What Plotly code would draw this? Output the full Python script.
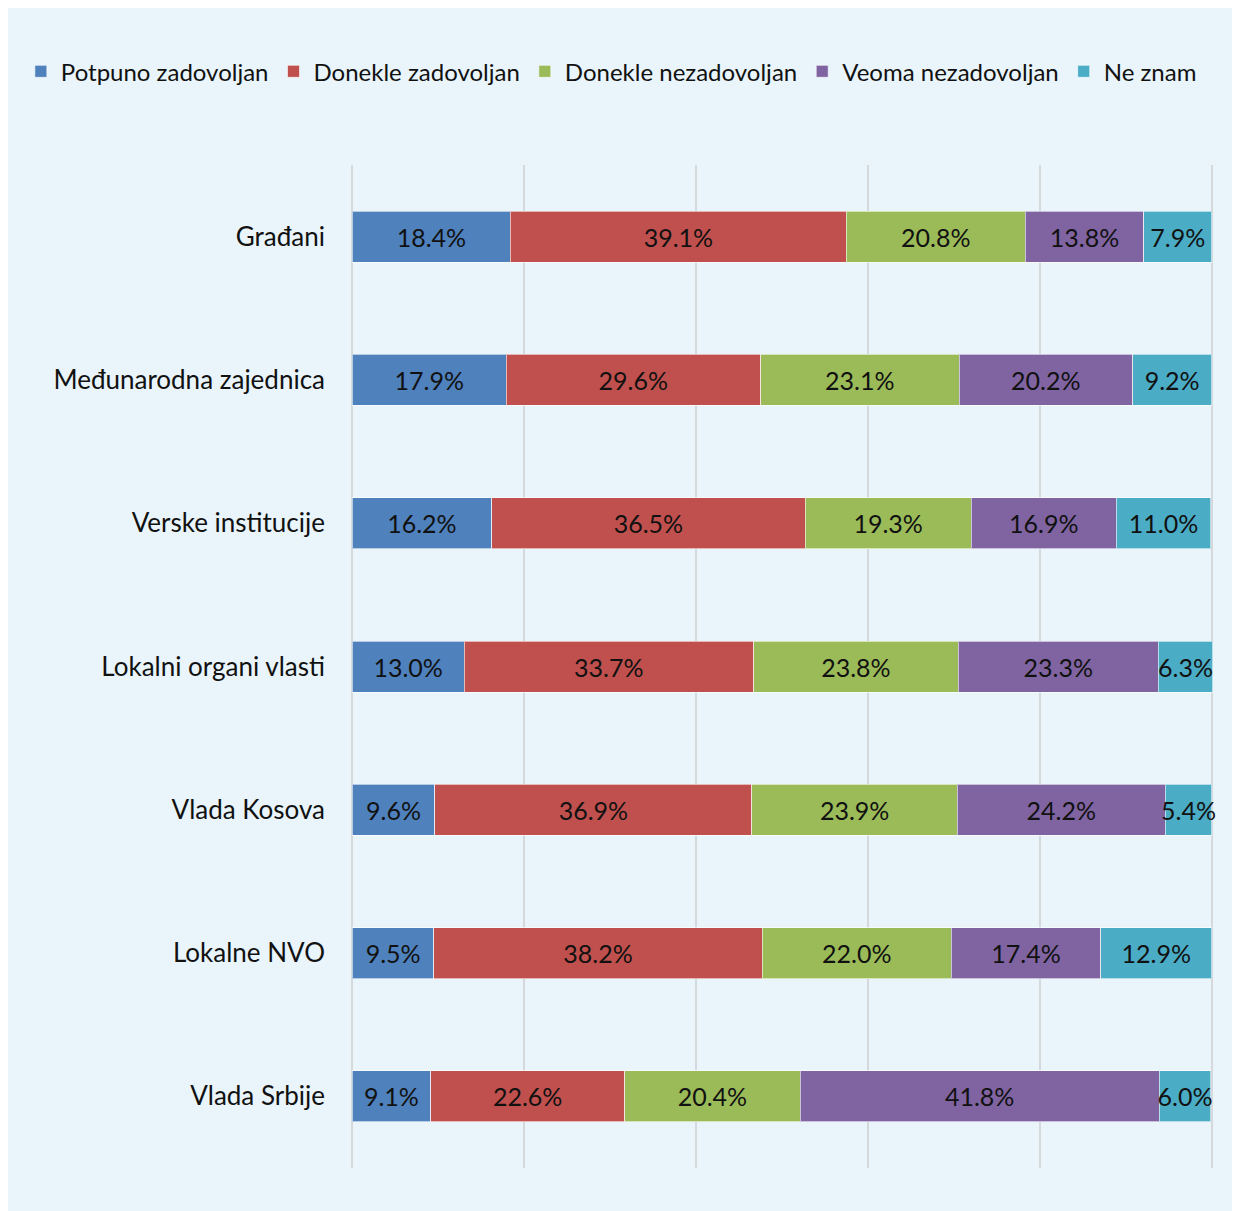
import plotly.graph_objects as go

categories = [
    "Građani",
    "Međunarodna zajednica",
    "Verske institucije",
    "Lokalni organi vlasti",
    "Vlada Kosova",
    "Lokalne NVO",
    "Vlada Srbije",
]

series_names = [
    "Potpuno zadovoljan",
    "Donekle zadovoljan",
    "Donekle nezadovoljan",
    "Veoma nezadovoljan",
    "Ne znam",
]

potpuno_zadovoljan = [18.4, 17.9, 16.2, 13.0, 9.6, 9.5, 9.1]
donekle_zadovoljan = [39.1, 29.6, 36.5, 33.7, 36.9, 38.2, 22.6]
donekle_nezadovoljan = [20.8, 23.1, 19.3, 23.8, 23.9, 22.0, 20.4]
veoma_nezadovoljan = [13.8, 20.2, 16.9, 23.3, 24.2, 17.4, 41.8]
ne_znam = [7.9, 9.2, 11.0, 6.3, 5.4, 12.9, 6.0]

colors = ["#4f81bd", "#c0504d", "#9bbb59", "#8064a2", "#4bacc6"]

FONT = "Lato, Open Sans, sans-serif"
W, H = 1240, 1211

fig = go.Figure()
all_series = [potpuno_zadovoljan, donekle_zadovoljan, donekle_nezadovoljan,
              veoma_nezadovoljan, ne_znam]
for name, vals, col in zip(series_names, all_series, colors):
    fig.add_trace(go.Bar(
        y=categories,
        x=vals,
        name=name,
        orientation="h",
        marker={"color": col, "line": {"color": "rgba(255,255,255,0.6)", "width": 1}},
        text=[f"{v:.1f}%" for v in vals],
        textposition="inside",
        insidetextanchor="middle",
        textangle=0,
        textfont={"color": "#111111", "size": 25, "family": FONT},
        cliponaxis=False,
        constraintext="none",
    ))

fig.update_layout(
    width=W,
    height=H,
    barmode="stack",
    bargap=0.644,
    margin={"l": 343, "r": 35, "t": 157, "b": 51, "autoexpand": False},
    paper_bgcolor="#e9f5fb",
    plot_bgcolor="rgba(0,0,0,0)",
    font={"family": FONT, "color": "#111111", "size": 25},
    legend={
        "orientation": "h",
        "x": -0.383, "y": 1.093,
        "xanchor": "left", "yanchor": "middle",
        "font": {"size": 24, "family": FONT, "color": "#111111"},
        "itemwidth": 30,
        "traceorder": "normal",
        "bgcolor": "rgba(0,0,0,0)",
    },
    xaxis={
        "range": [-0.15, 100.15],
        "tick0": 0,
        "dtick": 20,
        "showgrid": True,
        "gridcolor": "#d6d9dc",
        "gridwidth": 2,
        "zeroline": False,
        "showticklabels": False,
        "fixedrange": True,
    },
    yaxis={
        "autorange": "reversed",
        "showgrid": False,
        "ticks": "",
        "ticklabelstandoff": 25,
        "tickfont": {"size": 26, "family": FONT, "color": "#111111"},
    },
    showlegend=True,
)

# no scrollbars, so the light-blue box runs to the window edge
fig.write_html("out.html", post_script="document.body.style.overflow='hidden';")
